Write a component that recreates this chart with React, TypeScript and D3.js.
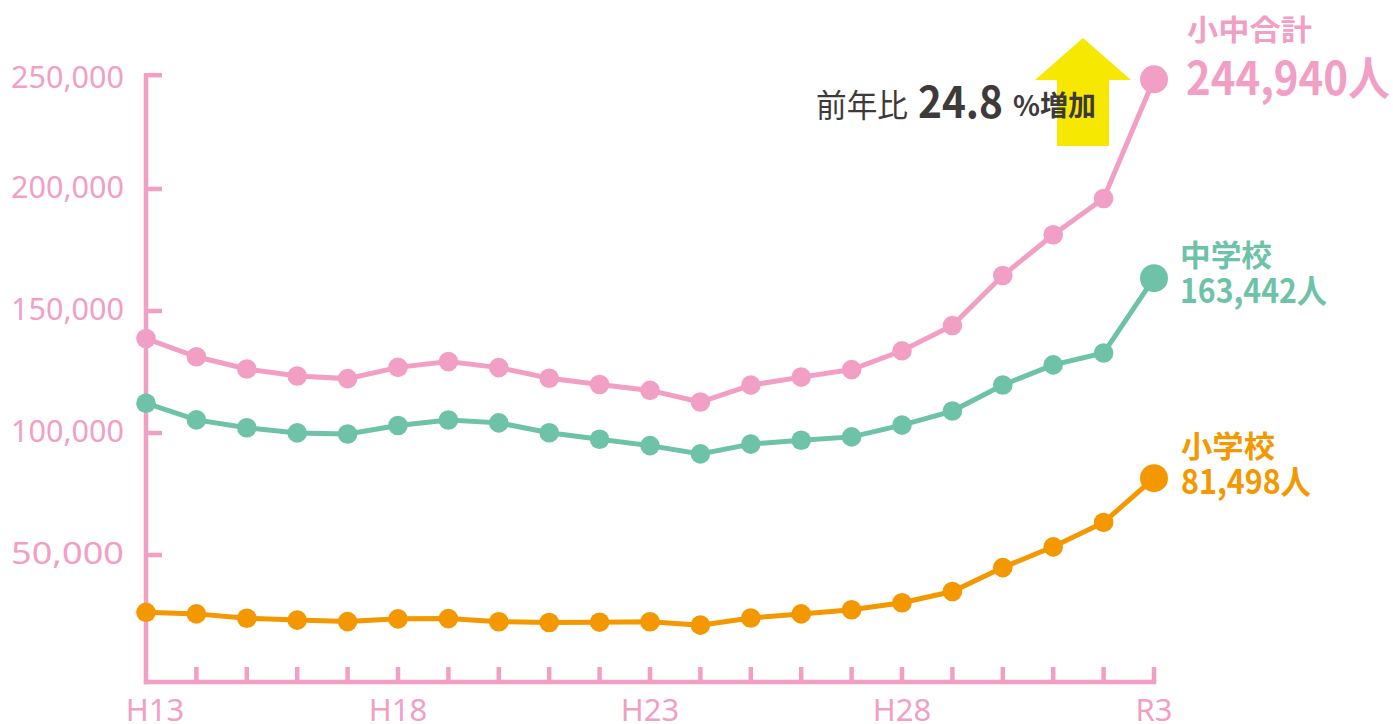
import * as d3 from "d3";

const years = [
  "H13", "H14", "H15", "H16", "H17", "H18", "H19", "H20", "H21", "H22", "H23",
  "H24", "H25", "H26", "H27", "H28", "H29", "H30", "R1", "R2", "R3",
];
const xTickLabels = ["H13", "H18", "H23", "H28", "R3"];
const yTicks = [50000, 100000, 150000, 200000, 250000];

// 小中合計
const total = [
  138722, 131252, 126226, 123358, 122287, 126894, 129255, 126805, 122432, 119891,
  117458, 112689, 119617, 122897, 125991, 133683, 144031, 164528, 181272, 196127,
  244940,
];
// 中学校
const juniorHigh = [
  112211, 105383, 102149, 100040, 99578, 103069, 105328, 104153, 100105, 97428,
  94836, 91446, 95442, 97033, 98408, 103235, 108999, 119687, 127922, 132777,
  163442,
];
// 小学校
const elementary = [
  26511, 25869, 24077, 23318, 22709, 23825, 23927, 22652, 22327, 22463, 22622,
  21243, 24175, 25864, 27583, 30448, 35032, 44841, 53350, 63350, 81498,
];

const PINK = "#f29fc5";
const GREEN = "#6dc2a8";
const ORANGE = "#f39800";
const DARK = "#3e3a39";
const JP = "'Noto Sans CJK JP', 'Noto Sans', sans-serif";

const W = 1393;
const H = 724;
const AXIS_TOP = 73;
const AXIS_Y = 682;

export default function App() {
  const x = d3.scalePoint<string>().domain(years).range([146, 1154]);
  const y = d3.scaleLinear().domain([0, 250000]).range([677, 67]);
  const line = d3
    .line<number>()
    .x((_, i) => x(years[i]) as number)
    .y((d) => y(d));

  const series = [
    { data: total, color: PINK },
    { data: juniorHigh, color: GREEN },
    { data: elementary, color: ORANGE },
  ];
  const x0 = x(years[0]) as number;
  const xN = x(years[years.length - 1]) as number;

  return (
    <svg
      width={W}
      height={H}
      style={{ position: "absolute", left: 0, top: 0, background: "#fff" }}
    >
      {/* axes */}
      <g stroke={PINK} strokeWidth={4.5} fill="none">
        <line x1={x0} x2={x0} y1={AXIS_TOP} y2={AXIS_Y + 2.2} />
        <line x1={x0 - 2.2} x2={xN + 2.2} y1={AXIS_Y} y2={AXIS_Y} />
        {yTicks.map((t) => {
          const ty = Math.max(y(t), AXIS_TOP + 2.2);
          return <line key={t} x1={x0} x2={x0 + 16} y1={ty} y2={ty} />;
        })}
        {years.slice(1).map((yr) => (
          <line key={yr} x1={x(yr)} x2={x(yr)} y1={AXIS_Y} y2={AXIS_Y - 15} />
        ))}
      </g>
      <g fill={PINK} fontFamily="'Noto Sans', sans-serif" fontSize={31}>
        {yTicks.map((t) => (
          <text
            key={t}
            x={124}
            y={Math.max(y(t), AXIS_TOP + 6) + 9}
            textAnchor="end"
            textLength={113}
            lengthAdjust="spacingAndGlyphs"
          >
            {d3.format(",")(t)}
          </text>
        ))}
        {xTickLabels.map((l) => (
          <text key={l} x={(x(l) as number) + (l === "H13" ? 9 : 0)} y={721} textAnchor="middle">
            {l}
          </text>
        ))}
      </g>

      {/* series */}
      {series.map((s, si) => (
        <g key={si}>
          <path d={line(s.data) || ""} fill="none" stroke={s.color} strokeWidth={5} />
          {s.data.map((d, i) => (
            <circle
              key={i}
              cx={x(years[i])}
              cy={y(d)}
              r={i === s.data.length - 1 ? 14 : 9.8}
              fill={s.color}
            />
          ))}
        </g>
      ))}

      {/* arrow + annotation */}
      <polygon
        points="1083,38 1131,80 1109,80 1109,146 1057,146 1057,80 1035,80"
        fill="#f6e800"
      />
      <g fontFamily={JP} fill={DARK}>
        <text x={816} y={117} fontSize={32} textLength={92} lengthAdjust="spacingAndGlyphs">
          前年比
        </text>
        <text x={918} y={118} fontSize={44} fontWeight={700} textLength={85} lengthAdjust="spacingAndGlyphs">
          24.8
        </text>
        <text x={1013} y={116} fontSize={28} fontWeight={700} textLength={83} lengthAdjust="spacingAndGlyphs">
          %増加
        </text>
      </g>

      {/* end labels */}
      <g fontFamily={JP} fontWeight={700}>
        <text x={1187} y={41} fontSize={29} fill={PINK} textLength={125} lengthAdjust="spacingAndGlyphs">
          小中合計
        </text>
        <text x={1186} y={95} fontSize={46} fill={PINK} textLength={204} lengthAdjust="spacingAndGlyphs">
          {d3.format(",")(total[total.length - 1])}人
        </text>
        <text x={1180} y={266} fontSize={30} fill={GREEN} textLength={92} lengthAdjust="spacingAndGlyphs">
          中学校
        </text>
        <text x={1180} y={303} fontSize={33} fill={GREEN} textLength={147} lengthAdjust="spacingAndGlyphs">
          {d3.format(",")(juniorHigh[juniorHigh.length - 1])}人
        </text>
        <text x={1181} y={457} fontSize={30} fill={ORANGE} textLength={94} lengthAdjust="spacingAndGlyphs">
          小学校
        </text>
        <text x={1181} y={494} fontSize={33} fill={ORANGE} textLength={130} lengthAdjust="spacingAndGlyphs">
          {d3.format(",")(elementary[elementary.length - 1])}人
        </text>
      </g>
    </svg>
  );
}
